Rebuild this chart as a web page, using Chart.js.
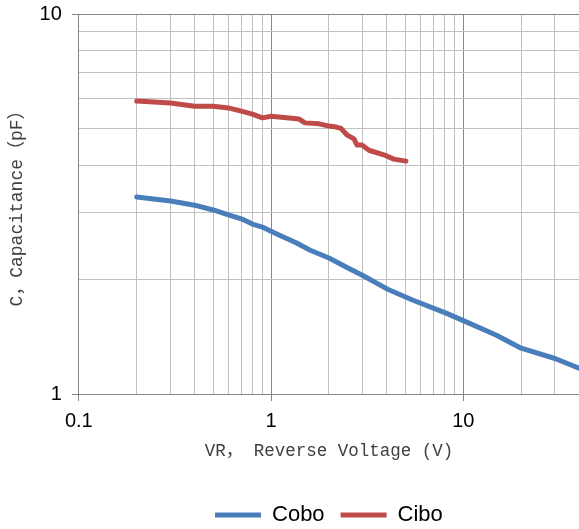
<!DOCTYPE html>
<html>
<head>
<meta charset="utf-8">
<script src="https://cdn.jsdelivr.net/npm/chart.js@4"></script>
<style>
    html, body { margin: 0; padding: 0; background: #fff; }
    .chart-box { width: 579px; height: 529px; }
</style>
</head>
<body>
<div class="chart-box"><canvas id="cap_chart"></canvas></div>
<script>
const coboVoltage = [0.2, 0.3, 0.4, 0.5, 0.6, 0.7, 0.8, 0.9, 1.0, 1.1, 1.35, 1.6, 2.0, 2.5, 3.0, 4.1, 5.4, 8.2, 10, 14.8, 20, 30, 40];
const coboCap = [3.30, 3.22, 3.14, 3.05, 2.96, 2.89, 2.80, 2.75, 2.68, 2.62, 2.50, 2.39, 2.28, 2.15, 2.05, 1.88, 1.77, 1.63, 1.56, 1.43, 1.32, 1.24, 1.17];

const ciboVoltage = [0.2, 0.3, 0.4, 0.5, 0.6, 0.7, 0.8, 0.9, 1.0, 1.1, 1.4, 1.5, 1.78, 2.0, 2.18, 2.31, 2.48, 2.7, 2.8, 2.97, 3.23, 3.86, 4.35, 5.03];
const ciboCap = [5.90, 5.83, 5.72, 5.72, 5.66, 5.55, 5.45, 5.33, 5.38, 5.36, 5.29, 5.17, 5.14, 5.07, 5.04, 5.00, 4.81, 4.69, 4.52, 4.52, 4.38, 4.26, 4.15, 4.10];

const xRange = [0.1, 40];
const yRange = [1, 10];

const seriesNames = ["Cobo", "Cibo"];
const xTitle = "VR， Reverse Voltage (V)";
const yTitle = "C，Capacitance（pF）";

const toPoints = (xs, ys) => xs.map((x, i) => ({ x: x, y: ys[i] }));
const isDecade = (v) => Math.abs(Math.log10(v) - Math.round(Math.log10(v))) < 1e-6;

// keep only 1..9 x 10^n ticks
const wholeMantissa = (v) => {
    const m = v / Math.pow(10, Math.floor(Math.log10(v) + 1e-9));
    return Math.abs(m - Math.round(m)) < 1e-6;
};

const minorGrid = "#c0c0c0";
const majorGrid = "#868686";

const gridFor = (ctx) => (ctx.tick && isDecade(ctx.tick.value) ? majorGrid : minorGrid);
const tickFor = (ctx) => (ctx.tick && isDecade(ctx.tick.value) ? majorGrid : "rgba(0,0,0,0)");

const tickFont = { family: "'Liberation Sans', Arial, sans-serif", size: 20 };

const chartCtx = document.querySelector("#cap_chart").getContext("2d");

const capChart = new Chart(chartCtx, {
    type: "line",
    data: {
        datasets: [
            {
                label: seriesNames[0],
                data: toPoints(coboVoltage, coboCap),
                borderColor: "#4a7ebb",
                backgroundColor: "#4a7ebb",
                borderWidth: 5,
                borderCapStyle: "round",
                borderJoinStyle: "round",
                pointRadius: 0,
                tension: 0,
            },
            {
                label: seriesNames[1],
                data: toPoints(ciboVoltage, ciboCap),
                borderColor: "#be4b48",
                backgroundColor: "#be4b48",
                borderWidth: 5,
                borderCapStyle: "round",
                borderJoinStyle: "round",
                pointRadius: 0,
                tension: 0,
            },
        ],
    },
    options: {
        responsive: true,
        maintainAspectRatio: false,
        animation: false,
        layout: {
            padding: { left: 2, right: 0, top: 14, bottom: -7 },
        },
        plugins: {
            legend: {
                position: "bottom",
                fullSize: false,
                labels: {
                    usePointStyle: true,
                    pointStyle: "line",
                    pointStyleWidth: 46,
                    padding: 16,
                    color: "#000",
                    font: { family: "'Liberation Sans', Arial, sans-serif", size: 22 },
                },
            },
            tooltip: { enabled: false },
        },
        scales: {
            x: {
                type: "logarithmic",
                min: xRange[0],
                max: xRange[1],
                afterBuildTicks: (scale) => {
                    scale.ticks = scale.ticks.filter((t) => wholeMantissa(t.value));
                },
                border: { display: true, color: majorGrid },
                grid: {
                    color: gridFor,
                    tickColor: tickFor,
                    tickLength: 15,
                    tickBorderDash: [6, 100],
                },
                ticks: {
                    autoSkip: false,
                    maxRotation: 0,
                    padding: 0,
                    color: "#000",
                    font: tickFont,
                    callback: function (value) {
                        return isDecade(value) ? String(value) : "";
                    },
                },
                title: {
                    display: true,
                    text: xTitle,
                    color: "#404040",
                    font: { family: "'Liberation Mono', 'Noto Sans CJK SC', monospace", size: 17.5 },
                    padding: { top: 7.5, bottom: 26.5 },
                },
            },
            y: {
                type: "logarithmic",
                min: yRange[0],
                max: yRange[1],
                afterBuildTicks: (scale) => {
                    scale.ticks = scale.ticks.filter((t) => wholeMantissa(t.value));
                },
                border: { display: true, color: majorGrid },
                grid: {
                    color: gridFor,
                    tickColor: tickFor,
                    tickLength: 16,
                    tickBorderDash: [0, 9, 7, 100],
                },
                ticks: {
                    autoSkip: false,
                    padding: 1,
                    color: "#000",
                    font: tickFont,
                    callback: function (value) {
                        return isDecade(value) ? String(value) : "";
                    },
                },
                title: {
                    display: true,
                    text: yTitle,
                    color: "#404040",
                    font: { family: "'Liberation Mono', 'Noto Sans CJK SC', monospace", size: 18 },
                    padding: { top: 4, bottom: 11 },
                },
            },
        },
    },
});
</script>
</body>
</html>
